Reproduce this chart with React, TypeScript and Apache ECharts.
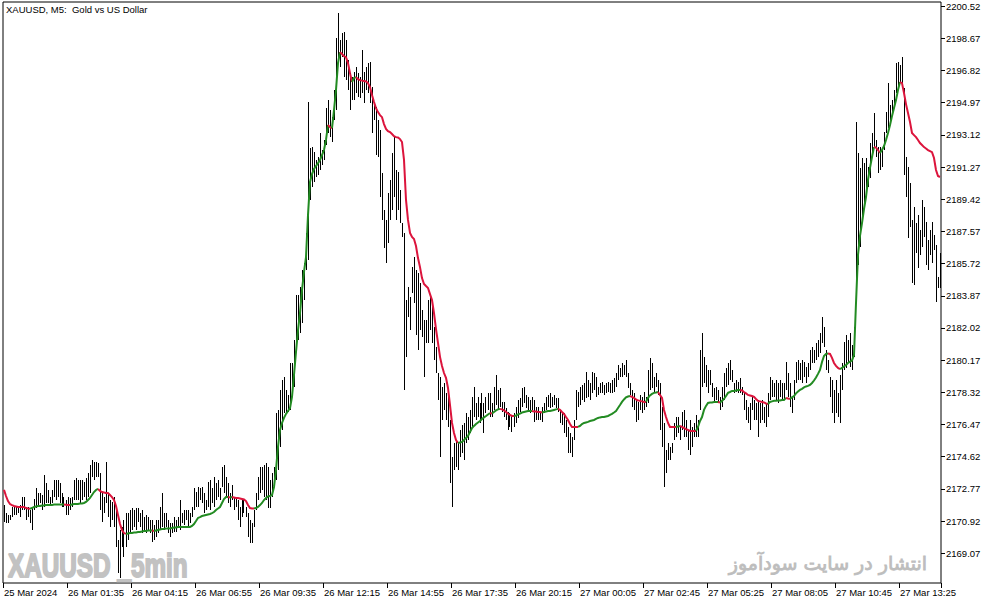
import React, { useEffect, useRef } from "react";
import * as echarts from "echarts";

// ---- data (bar highs / lows / moving average), one entry per 5-minute bar ----
const highs = [
  2171.84, 2171.38, 2171.27, 2171.27, 2171.73, 2171.73, 2171.73, 2171.73, 2171.84, 2172.30,
  2172.30, 2171.73, 2171.73, 2171.56, 2171.73, 2172.19, 2172.82, 2172.53, 2172.53, 2172.42,
  2173.57, 2173.11, 2172.71, 2172.30, 2172.71, 2173.28, 2173.28, 2173.28, 2173.11, 2172.53,
  2172.30, 2172.13, 2172.30, 2172.25, 2172.30, 2173.28, 2173.40, 2173.28, 2173.28, 2173.28,
  2173.16, 2173.40, 2173.68, 2174.14, 2174.43, 2174.31, 2174.31, 2174.26, 2173.68, 2172.59,
  2172.30, 2174.31, 2172.53, 2172.13, 2172.02, 2172.30, 2171.73, 2169.83, 2170.41, 2170.58,
  2170.98, 2171.38, 2171.38, 2171.56, 2171.67, 2171.56, 2171.67, 2171.67, 2171.38, 2171.56,
  2171.15, 2171.27, 2171.15, 2170.98, 2170.98, 2170.69, 2170.98, 2170.98, 2171.73, 2172.53,
  2171.38, 2171.38, 2170.98, 2170.81, 2170.81, 2171.15, 2170.98, 2171.15, 2172.13, 2171.38,
  2171.56, 2171.56, 2171.56, 2171.38, 2171.73, 2172.82, 2172.59, 2172.88, 2172.82, 2172.88,
  2172.53, 2172.13, 2173.16, 2173.28, 2172.82, 2173.45, 2173.11, 2173.28, 2172.82, 2174.03,
  2174.14, 2173.45, 2173.11, 2172.53, 2172.99, 2172.30, 2172.30, 2172.13, 2171.73, 2172.13,
  2172.13, 2171.73, 2171.38, 2170.98, 2170.81, 2171.56, 2172.53, 2173.45, 2174.03, 2174.03,
  2174.14, 2174.26, 2174.03, 2173.28, 2173.68, 2174.03, 2177.13, 2177.31, 2178.46, 2179.03,
  2179.21, 2178.46, 2178.17, 2180.01, 2180.01, 2181.33, 2183.92, 2183.92, 2184.38, 2185.35,
  2185.75, 2187.48, 2195.01, 2192.36, 2192.42, 2192.14, 2191.68, 2191.85, 2193.23, 2192.25,
  2192.83, 2194.66, 2195.12, 2194.55, 2194.14, 2195.70, 2198.69, 2200.12, 2198.57, 2198.97,
  2199.03, 2198.57, 2197.42, 2196.67, 2196.44, 2196.73, 2197.02, 2196.67, 2196.44, 2197.99,
  2196.73, 2197.02, 2197.25, 2197.31, 2195.87, 2194.95, 2194.72, 2193.97, 2193.40, 2190.93,
  2188.80, 2188.23, 2189.78, 2190.53, 2192.08, 2192.99, 2191.10, 2190.99, 2189.95, 2188.05,
  2187.48, 2183.63, 2184.38, 2183.80, 2185.52, 2186.10, 2185.35, 2185.18, 2184.61, 2183.05,
  2182.48, 2182.48, 2183.63, 2183.80, 2183.46, 2182.08, 2180.93, 2179.43, 2179.21, 2178.63,
  2178.86, 2178.29, 2178.06, 2176.73, 2174.61, 2175.41, 2175.58, 2175.41, 2176.16, 2176.44,
  2176.56, 2177.13, 2176.90, 2177.31, 2178.06, 2178.63, 2177.71, 2178.06, 2177.71, 2178.29,
  2177.71, 2178.06, 2178.29, 2178.29, 2177.71, 2178.63, 2179.32, 2178.46, 2178.57, 2177.77,
  2177.77, 2177.42, 2177.19, 2177.13, 2177.02, 2177.13, 2177.48, 2177.88, 2178.00, 2178.57,
  2178.63, 2178.17, 2178.06, 2177.88, 2178.06, 2177.88, 2177.48, 2177.48, 2177.19, 2177.48,
  2177.71, 2178.06, 2178.17, 2178.29, 2178.06, 2178.17, 2178.00, 2178.00, 2177.31, 2177.19,
  2177.13, 2176.73, 2176.33, 2175.98, 2175.75, 2176.73, 2178.46, 2178.34, 2178.63, 2178.75,
  2178.86, 2179.49, 2179.03, 2178.86, 2179.49, 2179.43, 2179.21, 2178.63, 2178.86, 2178.92,
  2178.75, 2178.86, 2178.92, 2178.86, 2179.03, 2179.15, 2179.43, 2179.89, 2179.72, 2180.01,
  2179.89, 2180.18, 2179.43, 2178.86, 2178.46, 2178.29, 2177.88, 2177.77, 2178.17, 2178.06,
  2178.34, 2178.06, 2179.61, 2180.30, 2180.01, 2179.21, 2179.43, 2179.03, 2178.86, 2177.48,
  2176.56, 2175.01, 2175.41, 2175.18, 2175.41, 2176.56, 2176.90, 2176.90, 2176.33, 2177.19,
  2177.31, 2176.73, 2176.16, 2176.73, 2176.33, 2176.56, 2177.02, 2176.73, 2180.76, 2181.73,
  2180.36, 2179.89, 2179.61, 2179.61, 2178.86, 2178.57, 2178.63, 2178.46, 2178.06, 2178.63,
  2179.43, 2179.72, 2180.01, 2180.18, 2179.61, 2178.86, 2179.03, 2178.92, 2179.15, 2178.63,
  2178.29, 2177.88, 2177.48, 2177.71, 2178.06, 2177.88, 2177.71, 2177.88, 2177.71, 2177.88,
  2177.48, 2177.71, 2178.29, 2179.21, 2179.03, 2178.86, 2179.03, 2178.86, 2179.03, 2178.86,
  2178.86, 2180.07, 2179.43, 2178.86, 2178.06, 2179.03, 2180.07, 2180.18, 2180.01, 2180.18,
  2180.07, 2179.78, 2180.01, 2180.76, 2180.93, 2180.76, 2181.16, 2181.33, 2181.73, 2182.65,
  2182.08, 2180.76, 2180.18, 2179.21, 2179.03, 2178.46, 2179.03, 2178.29, 2179.32, 2180.01,
  2181.22, 2181.62, 2181.33, 2181.73, 2181.04, 2182.08, 2193.86, 2192.08, 2191.22, 2191.79,
  2191.50, 2191.79, 2191.27, 2192.65, 2193.23, 2194.38, 2192.83, 2192.42, 2192.42, 2192.36,
  2193.28, 2194.43, 2196.10, 2194.84, 2195.12, 2195.70, 2197.25, 2197.31, 2197.13, 2197.59,
  2195.81, 2191.85, 2191.27, 2190.35, 2188.23, 2188.98, 2188.05, 2188.51, 2187.65, 2189.38,
  2188.98, 2188.12, 2187.08, 2187.65, 2188.12, 2187.37, 2186.79, 2184.95, 2186.33,
];

const lows = [
  2170.87, 2170.81, 2170.81, 2170.98, 2171.15, 2171.27, 2171.27, 2171.38, 2171.15, 2171.56,
  2171.56, 2170.98, 2171.15, 2170.81, 2170.41, 2171.56, 2171.67, 2171.73, 2171.96, 2171.56,
  2171.73, 2171.96, 2171.96, 2171.84, 2171.96, 2172.30, 2172.13, 2172.30, 2171.96, 2171.73,
  2171.73, 2171.27, 2171.27, 2171.56, 2171.73, 2172.13, 2172.13, 2172.13, 2171.96, 2172.13,
  2172.30, 2172.13, 2172.30, 2172.53, 2173.45, 2173.28, 2173.45, 2173.45, 2171.56, 2170.87,
  2171.38, 2171.96, 2171.15, 2170.58, 2170.98, 2170.58, 2169.43, 2167.94, 2167.65, 2169.43,
  2168.86, 2169.43, 2169.83, 2170.23, 2170.41, 2170.58, 2170.41, 2170.87, 2170.58, 2170.23,
  2170.41, 2170.23, 2170.41, 2170.23, 2169.72, 2169.83, 2170.00, 2170.23, 2170.41, 2170.58,
  2170.41, 2170.58, 2170.23, 2170.00, 2170.23, 2170.29, 2170.29, 2170.58, 2170.41, 2170.81,
  2170.69, 2170.98, 2170.58, 2170.81, 2171.15, 2171.56, 2171.73, 2171.73, 2172.13, 2171.96,
  2171.38, 2171.56, 2171.73, 2171.56, 2171.96, 2171.73, 2172.13, 2172.30, 2172.13, 2172.88,
  2172.53, 2172.30, 2171.96, 2171.73, 2172.13, 2171.56, 2171.73, 2170.98, 2170.58, 2171.15,
  2171.38, 2171.15, 2170.00, 2169.66, 2169.66, 2170.58, 2171.56, 2172.13, 2172.53, 2172.71,
  2172.30, 2172.13, 2171.67, 2171.67, 2172.30, 2173.11, 2173.28, 2173.86, 2175.18, 2176.16,
  2177.13, 2177.13, 2177.19, 2177.31, 2178.06, 2178.63, 2180.76, 2181.33, 2181.73, 2182.31,
  2183.63, 2185.35, 2185.93, 2189.38, 2190.12, 2190.41, 2190.70, 2190.81, 2191.10, 2191.39,
  2191.68, 2192.54, 2193.23, 2192.99, 2192.71, 2193.97, 2194.55, 2197.42, 2197.02, 2197.59,
  2196.44, 2196.27, 2195.70, 2194.55, 2195.12, 2195.12, 2195.53, 2195.30, 2195.24, 2195.53,
  2194.95, 2195.70, 2195.53, 2194.95, 2193.23, 2193.97, 2191.96, 2191.85, 2189.55, 2188.23,
  2186.62, 2185.75, 2186.91, 2188.23, 2188.80, 2189.55, 2188.23, 2188.80, 2188.05, 2187.25,
  2178.46, 2180.36, 2182.65, 2181.90, 2184.03, 2183.46, 2181.62, 2180.76, 2181.90, 2181.50,
  2179.21, 2181.16, 2181.16, 2181.90, 2181.16, 2180.18, 2179.43, 2177.88, 2174.61, 2176.73,
  2177.31, 2176.73, 2176.33, 2173.11, 2171.73, 2173.86, 2174.03, 2173.86, 2174.61, 2174.84,
  2174.43, 2175.41, 2175.58, 2175.98, 2176.33, 2176.90, 2176.73, 2176.90, 2176.56, 2176.73,
  2175.98, 2177.13, 2177.31, 2176.90, 2176.90, 2177.31, 2177.59, 2177.31, 2177.48, 2177.19,
  2176.90, 2176.73, 2176.16, 2176.33, 2176.04, 2176.33, 2176.56, 2176.85, 2177.19, 2177.48,
  2177.71, 2177.42, 2177.19, 2177.13, 2177.31, 2176.62, 2176.73, 2176.73, 2176.73, 2176.62,
  2177.13, 2177.31, 2177.48, 2177.42, 2177.48, 2177.59, 2177.42, 2177.19, 2176.56, 2176.44,
  2175.98, 2175.75, 2174.84, 2174.84, 2174.61, 2175.58, 2176.73, 2177.48, 2177.59, 2177.88,
  2177.77, 2178.00, 2178.06, 2177.88, 2178.29, 2178.46, 2178.06, 2178.17, 2178.29, 2178.29,
  2178.17, 2178.29, 2178.34, 2178.29, 2178.29, 2178.34, 2178.63, 2179.03, 2179.21, 2179.21,
  2179.32, 2179.21, 2178.57, 2178.17, 2177.48, 2177.31, 2176.62, 2176.73, 2177.31, 2177.13,
  2177.31, 2177.48, 2177.71, 2178.46, 2178.57, 2178.29, 2178.63, 2178.17, 2176.16, 2175.18,
  2172.88, 2173.68, 2174.43, 2174.43, 2174.84, 2175.58, 2175.75, 2175.98, 2175.58, 2176.16,
  2175.75, 2175.75, 2175.01, 2174.72, 2175.18, 2175.75, 2175.75, 2175.75, 2177.31, 2178.63,
  2178.86, 2178.63, 2178.29, 2178.75, 2178.06, 2177.71, 2177.88, 2177.71, 2177.31, 2177.48,
  2177.88, 2178.63, 2178.75, 2179.03, 2178.92, 2178.29, 2178.34, 2178.29, 2178.29, 2178.17,
  2177.31, 2176.73, 2176.56, 2176.16, 2177.31, 2176.73, 2176.73, 2175.75, 2176.56, 2176.73,
  2176.56, 2176.33, 2176.90, 2177.88, 2178.06, 2178.06, 2177.88, 2177.71, 2178.06, 2177.88,
  2177.88, 2178.46, 2178.06, 2177.48, 2177.13, 2177.88, 2178.86, 2179.03, 2179.03, 2178.86,
  2179.21, 2178.86, 2179.21, 2179.61, 2180.01, 2180.01, 2180.18, 2180.36, 2180.58, 2181.16,
  2180.93, 2179.61, 2179.43, 2178.06, 2177.13, 2176.56, 2177.13, 2176.90, 2176.56, 2178.46,
  2179.61, 2179.72, 2180.07, 2179.78, 2179.61, 2180.36, 2184.61, 2185.64, 2186.68, 2188.05,
  2188.98, 2189.78, 2190.12, 2190.64, 2191.85, 2192.42, 2191.85, 2190.93, 2191.10, 2191.27,
  2192.25, 2193.23, 2193.51, 2193.86, 2194.26, 2194.84, 2195.53, 2195.87, 2196.10, 2196.10,
  2190.81, 2189.55, 2187.19, 2187.83, 2184.61, 2184.49, 2186.33, 2185.47, 2186.22, 2186.68,
  2187.25, 2185.64, 2185.35, 2186.22, 2185.75, 2186.50, 2183.52, 2184.32, 2184.32,
];

const ma = [
  2172.71, 2172.36, 2172.07, 2171.90, 2171.84, 2171.79, 2171.76, 2171.73, 2171.73, 2171.73,
  2171.73, 2171.67, 2171.64, 2171.63, 2171.67, 2171.73, 2171.76, 2171.79, 2171.79, 2171.81,
  2171.81, 2171.84, 2171.84, 2171.84, 2171.84, 2171.87, 2171.87, 2171.87, 2171.87, 2171.87,
  2171.87, 2171.86, 2171.84, 2171.84, 2171.87, 2171.90, 2171.90, 2171.90, 2171.93, 2171.93,
  2171.96, 2172.02, 2172.13, 2172.25, 2172.42, 2172.59, 2172.71, 2172.77, 2172.65, 2172.59,
  2172.56, 2172.53, 2172.53, 2172.42, 2172.30, 2172.13, 2171.79, 2171.27, 2170.75, 2170.41,
  2170.23, 2170.18, 2170.21, 2170.23, 2170.23, 2170.26, 2170.26, 2170.29, 2170.29, 2170.32,
  2170.35, 2170.35, 2170.38, 2170.38, 2170.38, 2170.35, 2170.38, 2170.41, 2170.44, 2170.46,
  2170.46, 2170.49, 2170.49, 2170.49, 2170.52, 2170.55, 2170.55, 2170.58, 2170.58, 2170.58,
  2170.58, 2170.58, 2170.58, 2170.58, 2170.64, 2170.75, 2170.92, 2171.10, 2171.15, 2171.21,
  2171.24, 2171.27, 2171.30, 2171.33, 2171.38, 2171.44, 2171.56, 2171.64, 2171.73, 2171.96,
  2172.19, 2172.30, 2172.30, 2172.28, 2172.30, 2172.28, 2172.25, 2172.25, 2172.22, 2172.19,
  2172.16, 2172.07, 2171.84, 2171.67, 2171.64, 2171.64, 2171.67, 2171.73, 2171.84, 2171.96,
  2172.13, 2172.25, 2172.34, 2172.36, 2172.42, 2172.88, 2173.86, 2175.18, 2176.16, 2176.56,
  2176.85, 2177.08, 2177.25, 2177.42, 2178.06, 2179.32, 2180.64, 2181.90, 2182.88, 2184.20,
  2185.24, 2186.10, 2188.51, 2190.41, 2190.87, 2191.16, 2191.33, 2191.50, 2191.68, 2191.96,
  2192.25, 2192.83, 2193.69, 2193.57, 2193.51, 2194.55, 2195.70, 2197.25, 2197.88, 2197.77,
  2197.65, 2197.59, 2197.25, 2196.67, 2196.16, 2196.39, 2196.44, 2196.33, 2196.27, 2196.24,
  2196.22, 2196.19, 2196.10, 2195.87, 2195.41, 2195.01, 2194.66, 2194.43, 2194.26, 2194.14,
  2193.74, 2193.46, 2193.34, 2193.28, 2193.17, 2193.05, 2192.99, 2192.97, 2192.88, 2192.71,
  2191.68, 2189.38, 2188.23, 2187.48, 2187.25, 2187.14, 2186.73, 2186.04, 2185.52, 2184.89,
  2184.55, 2184.43, 2184.32, 2183.97, 2183.63, 2182.88, 2181.96, 2181.16, 2180.36, 2179.84,
  2179.43, 2179.15, 2178.57, 2177.59, 2176.56, 2175.98, 2175.58, 2175.41, 2175.44, 2175.47,
  2175.58, 2175.70, 2175.81, 2176.04, 2176.27, 2176.39, 2176.50, 2176.59, 2176.67, 2176.79,
  2176.88, 2176.96, 2177.05, 2177.13, 2177.10, 2177.19, 2177.28, 2177.34, 2177.37, 2177.34,
  2177.28, 2177.19, 2177.10, 2177.02, 2176.96, 2176.96, 2176.99, 2177.05, 2177.10, 2177.16,
  2177.19, 2177.22, 2177.25, 2177.25, 2177.25, 2177.22, 2177.22, 2177.19, 2177.19, 2177.16,
  2177.19, 2177.22, 2177.25, 2177.25, 2177.28, 2177.31, 2177.34, 2177.37, 2177.31, 2177.19,
  2177.08, 2176.90, 2176.73, 2176.50, 2176.33, 2176.33, 2176.33, 2176.33, 2176.39, 2176.50,
  2176.56, 2176.59, 2176.62, 2176.67, 2176.70, 2176.73, 2176.79, 2176.85, 2176.88, 2176.90,
  2176.90, 2176.93, 2176.96, 2177.02, 2177.08, 2177.16, 2177.25, 2177.42, 2177.59, 2177.77,
  2177.91, 2178.03, 2178.08, 2178.11, 2178.06, 2178.00, 2177.91, 2177.85, 2177.83, 2177.80,
  2177.77, 2177.77, 2178.00, 2178.14, 2178.23, 2178.29, 2178.31, 2178.34, 2178.17, 2178.00,
  2177.31, 2176.90, 2176.56, 2176.33, 2176.33, 2176.33, 2176.33, 2176.36, 2176.39, 2176.33,
  2176.27, 2176.21, 2176.16, 2176.10, 2176.10, 2176.10, 2176.10, 2176.33, 2176.67, 2176.90,
  2177.31, 2177.54, 2177.71, 2177.74, 2177.74, 2177.77, 2177.77, 2177.77, 2177.74, 2177.83,
  2177.94, 2178.11, 2178.29, 2178.34, 2178.40, 2178.40, 2178.43, 2178.46, 2178.46, 2178.43,
  2178.34, 2178.26, 2178.17, 2178.14, 2178.11, 2178.06, 2177.94, 2177.83, 2177.80, 2177.77,
  2177.74, 2177.68, 2177.65, 2177.77, 2177.80, 2177.83, 2177.83, 2177.85, 2177.85, 2177.88,
  2177.88, 2178.00, 2177.97, 2177.94, 2178.03, 2178.11, 2178.26, 2178.37, 2178.46, 2178.52,
  2178.60, 2178.66, 2178.69, 2178.75, 2178.86, 2179.00, 2179.17, 2179.38, 2179.61, 2180.07,
  2180.41, 2180.53, 2180.55, 2180.53, 2180.30, 2180.01, 2179.84, 2179.72, 2179.66, 2179.72,
  2179.81, 2179.89, 2180.01, 2180.09, 2180.15, 2180.47, 2183.46, 2186.22, 2187.31, 2188.05,
  2188.86, 2189.55, 2190.53, 2191.22, 2191.85, 2192.42, 2192.39, 2192.25, 2192.08, 2192.25,
  2192.48, 2192.83, 2193.23, 2193.69, 2194.20, 2194.66, 2195.12, 2195.70, 2196.16, 2196.10,
  2195.53, 2194.89, 2194.38, 2193.86, 2193.23, 2193.11, 2192.99, 2192.83, 2192.65, 2192.54,
  2192.42, 2192.34, 2192.25, 2192.19, 2192.13, 2191.79, 2191.10, 2190.76, 2190.70,
];

const priceTicks = [
  2169.07, 2170.92, 2172.77, 2174.62, 2176.47, 2178.32, 2180.17, 2182.02, 2183.87,
  2185.72, 2187.57, 2189.42, 2191.27, 2193.12, 2194.97, 2196.82, 2198.67, 2200.52,
];

const timeLabels = [
  "25 Mar 2024", "26 Mar 01:35", "26 Mar 04:15", "26 Mar 06:55", "26 Mar 09:35",
  "26 Mar 12:15", "26 Mar 14:55", "26 Mar 17:35", "26 Mar 20:15", "27 Mar 00:05",
  "27 Mar 02:45", "27 Mar 05:25", "27 Mar 08:05", "27 Mar 10:45", "27 Mar 13:25",
];

const labelEvery = 32;
const priceMin = 2167.36;
const priceMax = 2200.76;
const chartTitle = "XAUUSD, M5:  Gold vs US Dollar";
const watermarkLeft = "XAUUSD _5min";
const watermarkRight = "انتشار در سایت سودآموز";

const UP = "#228B22";
const DOWN = "#DC143C";
const FONT = "'Liberation Sans', Arial, sans-serif";

export default function App() {
  const ref = useRef<HTMLDivElement>(null);

  useEffect(() => {
    document.body.style.margin = "0";
    const chart = echarts.init(ref.current as HTMLDivElement, null, { renderer: "svg" });

    const categories = highs.map((_, i) => String(i));
    const bars = highs.map((h, i) => [i, lows[i], h]);

    // colour runs of the average: rising = green, falling = red
    const dirs: number[] = [];
    let last = 1;
    for (let i = 0; i < ma.length - 1; i++) {
      const d = ma[i + 1] - ma[i];
      if (d > 0) last = 1;
      else if (d < 0) last = -1;
      dirs.push(last);
    }
    const runs: number[][] = [];
    let s = 0;
    for (let i = 1; i <= dirs.length; i++) {
      if (i === dirs.length || dirs[i] !== dirs[s]) {
        runs.push([s, ma[s], i, dirs[s]]);
        s = i;
      }
    }

    const option: any = {
      animation: false,
      backgroundColor: "#fff",
      grid: {
        left: 3,
        top: 2,
        width: 938,
        height: 581,
        show: true,
        borderColor: "#000",
        borderWidth: 1,
        backgroundColor: "#fff",
      },
      xAxis: {
        type: "category",
        data: categories,
        boundaryGap: true,
        axisLine: { show: false },
        splitLine: { show: false },
        axisTick: {
          show: true,
          length: 5,
          interval: (i: number) => i % labelEvery === 0,
          lineStyle: { color: "#000", width: 1 },
        },
        axisLabel: {
          interval: (i: number) => i % labelEvery === 0,
          formatter: (_v: string, i: number) => timeLabels[i / labelEvery] ?? "",
          align: "left",
          color: "#000",
          fontSize: 9.5,
          fontFamily: FONT,
          margin: 4,
          hideOverlap: false,
        },
      },
      yAxis: {
        type: "value",
        position: "right",
        min: priceMin,
        max: priceMax,
        axisLine: { show: false },
        splitLine: { show: false },
        axisTick: {
          show: true,
          length: 4,
          customValues: priceTicks,
          lineStyle: { color: "#000", width: 1 },
        },
        axisLabel: {
          customValues: priceTicks,
          formatter: (v: number) => v.toFixed(2),
          color: "#000",
          fontSize: 9.5,
          fontFamily: FONT,
          margin: 5,
        },
      },
      graphic: [
        {
          type: "text",
          x: 6,
          y: 9,
          z: 10,
          style: {
            text: chartTitle,
            fill: "#000",
            font: `9.5px ${FONT}`,
            align: "left",
            verticalAlign: "middle",
          },
        },
        {
          type: "text",
          x: 8,
          y: 565,
          scaleX: 0.715,
          z: 0,
          style: {
            text: watermarkLeft,
            fill: "#c2c2c2",
            stroke: "#c2c2c2",
            lineWidth: 2,
            font: `bold 34px ${FONT}`,
            align: "left",
            verticalAlign: "middle",
          },
        },
        {
          type: "text",
          x: 927,
          y: 563,
          z: 0,
          style: {
            text: watermarkRight,
            fill: "#bdbdbd",
            stroke: "#bdbdbd",
            lineWidth: 0.8,
            font: "19px 'DejaVu Sans', 'Noto Sans', sans-serif",
            align: "right",
            verticalAlign: "middle",
          },
        },
      ],
      series: [
        {
          type: "custom",
          name: "bars",
          clip: true,
          encode: { x: 0, y: [1, 2] },
          data: bars,
          renderItem: (_p: any, api: any) => {
            const i = api.value(0);
            const top = api.coord([i, api.value(2)]);
            const bot = api.coord([i, api.value(1)]);
            const x = Math.floor(top[0]);
            const y1 = Math.round(top[1]);
            const y2 = Math.round(bot[1]);
            return {
              type: "rect",
              shape: { x, y: y1, width: 1, height: Math.max(1, y2 - y1) },
              style: { fill: "#000" },
            };
          },
          z: 2,
        },
        {
          type: "custom",
          name: "average",
          clip: true,
          encode: { x: 0, y: 1 },
          data: runs,
          renderItem: (_p: any, api: any) => {
            const a = api.value(0);
            const b = api.value(2);
            const d = api.value(3);
            const pts: number[][] = [];
            for (let k = a; k <= b; k++) pts.push(api.coord([k, ma[k]]));
            return {
              type: "polyline",
              shape: { points: pts },
              style: { stroke: d > 0 ? UP : DOWN, lineWidth: 2, fill: "none" },
            };
          },
          z: 3,
        },
      ],
    };

    chart.setOption(option);
    return () => chart.dispose();
  }, []);

  return (
    <div
      ref={ref}
      style={{ position: "absolute", left: 0, top: 0, width: 994, height: 605 }}
    />
  );
}
